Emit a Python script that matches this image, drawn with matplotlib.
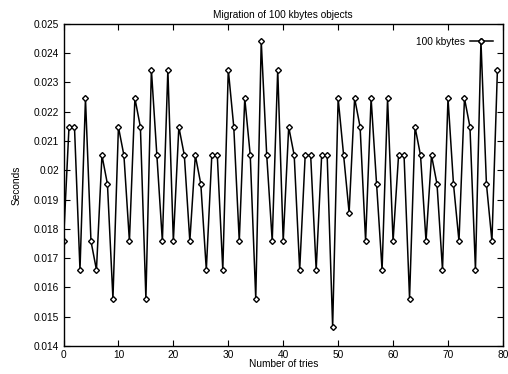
import matplotlib
matplotlib.use("Agg")
import matplotlib.pyplot as plt

# measured migration times (seconds) for each try
tries = list(range(80))
seconds = [
    0.01758, 0.02148, 0.02148, 0.01660, 0.02246, 0.01758, 0.01660, 0.02051, 0.01953, 0.01562,
    0.02148, 0.02051, 0.01758, 0.02246, 0.02148, 0.01562, 0.02344, 0.02051, 0.01758, 0.02344,
    0.01758, 0.02148, 0.02051, 0.01758, 0.02051, 0.01953, 0.01660, 0.02051, 0.02051, 0.01660,
    0.02344, 0.02148, 0.01758, 0.02246, 0.02051, 0.01562, 0.02441, 0.02051, 0.01758, 0.02344,
    0.01758, 0.02148, 0.02051, 0.01660, 0.02051, 0.02051, 0.01660, 0.02051, 0.02051, 0.01465,
    0.02246, 0.02051, 0.01855, 0.02246, 0.02148, 0.01758, 0.02246, 0.01953, 0.01660, 0.02246,
    0.01758, 0.02051, 0.02051, 0.01562, 0.02148, 0.02051, 0.01758, 0.02051, 0.01953, 0.01660,
    0.02246, 0.01953, 0.01758, 0.02246, 0.02148, 0.01660, 0.02441, 0.01953, 0.01758, 0.02344,
]
x_ticks = [0, 10, 20, 30, 40, 50, 60, 70, 80]
y_ticks = [0.014, 0.015, 0.016, 0.017, 0.018, 0.019, 0.02, 0.021, 0.022, 0.023, 0.024, 0.025]
y_labels = ["0.014", "0.015", "0.016", "0.017", "0.018", "0.019", "0.02",
            "0.021", "0.022", "0.023", "0.024", "0.025"]

plt.rcParams['font.family'] = ['Liberation Sans', 'DejaVu Sans']
FS = 7.3

fig = plt.figure(figsize=(5.08, 3.74), dpi=100)
ax = fig.add_axes([0.125, 0.075, 0.865, 0.861])

ax.plot(tries, seconds, color='black', linewidth=1.1, marker='D', markersize=3.0,
        markerfacecolor='white', markeredgecolor='black', markeredgewidth=1.0,
        label='100 kbytes')

ax.set_xlim(0, 80)
ax.set_ylim(0.014, 0.025)
ax.set_xticks(x_ticks)
ax.set_yticks(y_ticks)
ax.set_yticklabels(y_labels)
ax.tick_params(direction='in', length=4, width=0.8, top=True, right=True,
               labelsize=FS, pad=3, colors='black')
for s in ax.spines.values():
    s.set_linewidth(1.0)

ax.set_title('Migration of 100 kbytes objects', fontsize=FS, pad=4)
ax.set_xlabel('Number of tries', fontsize=FS, labelpad=-1)
ax.set_ylabel('Seconds', fontsize=FS, labelpad=9)

ax.legend(loc='upper right', fontsize=FS, frameon=False, markerfirst=False,
          handlelength=2.2, handletextpad=0.5, borderaxespad=0.4,
          bbox_to_anchor=(0.995, 0.985))

plt.savefig('out.png', dpi=100)
